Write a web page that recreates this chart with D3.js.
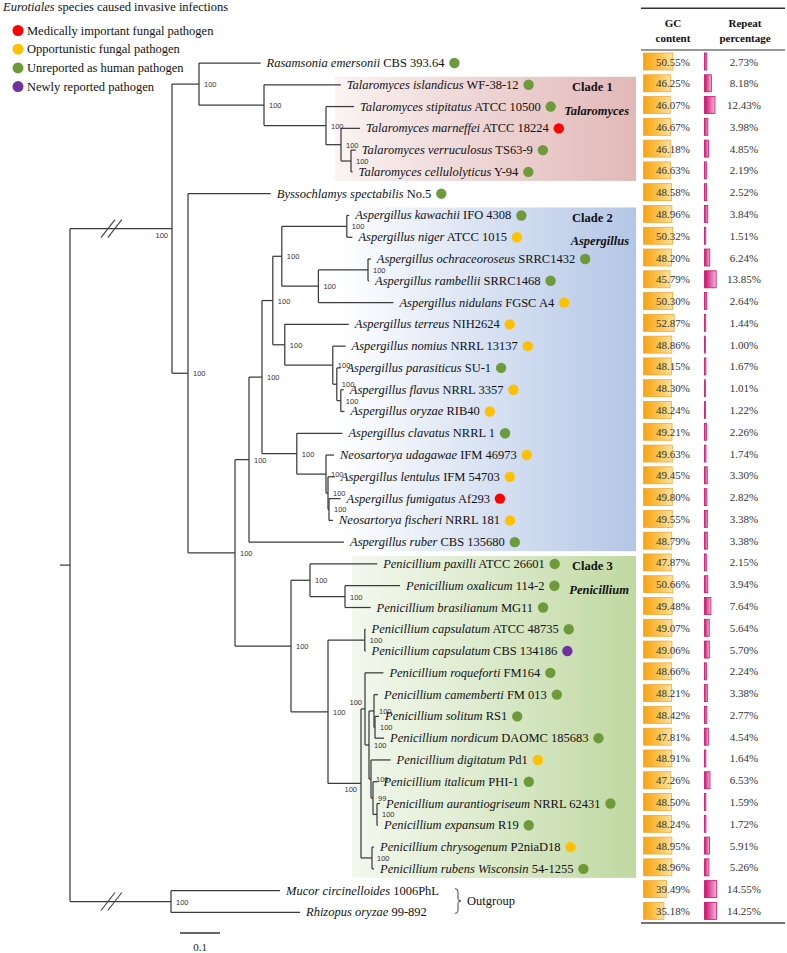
<!DOCTYPE html>
<html><head><meta charset="utf-8">
<script src="https://cdn.jsdelivr.net/npm/d3@7/dist/d3.min.js"></script>
<style>body{margin:0;background:#fff}svg{display:block}</style>
</head><body><svg id="chart" width="787" height="953"></svg>
<script>
// ---------------- DATA ----------------
const taxa = ["Rasamsonia emersonii","Talaromyces islandicus","Talaromyces stipitatus","Talaromyces marneffei","Talaromyces verruculosus","Talaromyces cellulolyticus","Byssochlamys spectabilis","Aspergillus kawachii","Aspergillus niger","Aspergillus ochraceoroseus","Aspergillus rambellii","Aspergillus nidulans","Aspergillus terreus","Aspergillus nomius","Aspergillus parasiticus","Aspergillus flavus","Aspergillus oryzae","Aspergillus clavatus","Neosartorya udagawae","Aspergillus lentulus","Aspergillus fumigatus","Neosartorya fischeri","Aspergillus ruber","Penicillium paxilli","Penicillium oxalicum","Penicillium brasilianum","Penicillium capsulatum","Penicillium capsulatum","Penicillium roqueforti","Penicillium camemberti","Penicillium solitum","Penicillium nordicum","Penicillium digitatum","Penicillium italicum","Penicillium aurantiogriseum","Penicillium expansum","Penicillium chrysogenum","Penicillium rubens Wisconsin","Mucor circinelloides","Rhizopus oryzae"];
const strains = ["CBS 393.64","WF-38-12","ATCC 10500","ATCC 18224","TS63-9","Y-94","No.5","IFO 4308","ATCC 1015","SRRC1432","SRRC1468","FGSC A4","NIH2624","NRRL 13137","SU-1","NRRL 3357","RIB40","NRRL 1","IFM 46973","IFM 54703","Af293","NRRL 181","CBS 135680","ATCC 26601","114-2","MG11","ATCC 48735","CBS 134186","FM164","FM 013","RS1","DAOMC 185683","Pd1","PHI-1","NRRL 62431","R19","P2niaD18","54-1255","1006PhL","99-892"];
// M = medically important, O = opportunistic, U = unreported, N = newly reported, "" = none
const pathogenType = ["U","U","U","M","U","U","U","U","O","U","U","O","O","O","U","O","O","U","O","O","M","O","U","U","U","U","U","N","U","U","U","U","O","U","U","U","O","U","",""];
const gcContent = [50.55,46.25,46.07,46.67,46.18,46.63,48.58,48.96,50.32,48.20,45.79,50.30,52.87,48.86,48.15,48.30,48.24,49.21,49.63,49.45,49.80,49.55,48.79,47.87,50.66,49.48,49.07,49.06,48.66,48.21,48.42,47.81,48.91,47.26,48.50,48.24,48.95,48.96,39.49,35.18];
const repeatPercentage = [2.73,8.18,12.43,3.98,4.85,2.19,2.52,3.84,1.51,6.24,13.85,2.64,1.44,1.00,1.67,1.01,1.22,2.26,1.74,3.30,2.82,3.38,3.38,2.15,3.94,7.64,5.64,5.70,2.24,3.38,2.77,4.54,1.64,6.53,1.59,1.72,5.91,5.26,14.55,14.25];

const legendTypes = ["M","O","U","N"];
const legendLabels = ["Medically  important fungal pathogen","Opportunistic fungal pathogen","Unreported as human pathogen","Newly reported pathogen"];
const cladeNames = ["Clade 1","Clade 2","Clade 3"];
const cladeGenera = ["Talaromyces","Aspergillus","Penicillium"];
const cladeFirstLeaf = [1,7,23];
const cladeLastLeaf = [5,22,37];
const scaleBarValue = 0.1;

// Tree (Newick; leaf names = row index, internal labels = bootstrap support)
const cladeTalaromycesNwk = "(0:0.154,(1:0.192,(2:0.07,(3:0.0475,(4:0.012,5:0.004)100:0.025)100:0.0375)100:0.155)100:0.1625)100:0.0675";
const cladeAspergillusNwk = "(((((7:0.006,8:0.014)100:0.1625,((9:0.007,10:0.0025)100:0.124,11:0.1875)100:0.0915)100:0.0225,(12:0.16,(13:0.032,(14:0.009,(15:0.0075,16:0.009)100:0.01)100:0.01)100:0.12)100:0.03)100:0.027,(17:0.114,(18:0.02,(19:0.017,(20:0.029,21:0.01)100:0.0025)100:0.005)100:0.073)100:0.087)100:0.0325,22:0.2375)100:0.035";
const cladePenicilliumNwk = "((23:0.168,(24:0.1375,25:0.064)100:0.0875)100:0.0475,((26:0.002,27:0.002)100:0.092,((28:0.046,((29:0.01,(30:0.01,31:0.0225)100:0.0025)100:0.0125,(32:0.049,(33:0.011,(34:0.0075,35:0.0025)100:0.01)99:0.005)100:0.005)100:0.01)100:0.01,(36:0.005,37:0.005)100:0.0275)100:0.0825)100:0.0925)100:0.14";
const outgroupNwk = "(38:0.2725,39:0.3225)100:0.2525";
const treeNewick = "((" + cladeTalaromycesNwk + ",(6:0.207,(" + cladeAspergillusNwk + "," + cladePenicilliumNwk + ")100:0.1175)100:0.04)100:0.255," + outgroupNwk + ");";

// ---------------- DRAWING ----------------
const svg = d3.select("#chart");
const SERIF = "'Liberation Serif','Times New Roman',Times,serif";
const SANS = "'Liberation Sans',Arial,sans-serif";
const FS = 12.5;
const typeColor = {M:"#ff0000", O:"#ffc000", U:"#6f9a3b", N:"#7030a0"};

function parseNewick(s){
  let i = 0;
  function node(){
    const n = {};
    if (s[i] === "("){
      n.children = [];
      i++;
      n.children.push(node());
      while (s[i] === ","){ i++; n.children.push(node()); }
      i++;
    }
    let label = "";
    while (i < s.length && !",:);".includes(s[i])) label += s[i++];
    let len = 0;
    if (s[i] === ":"){ i++; let num = ""; while (i < s.length && !",);".includes(s[i])) num += s[i++]; len = +num; }
    if (n.children) n.support = label; else n.leaf = +label;
    n.length = len;
    return n;
  }
  return node();
}

const root = d3.hierarchy(parseNewick(treeNewick));
root.eachBefore(d => { d.dist = d.parent ? d.parent.dist + d.data.length : 0; });

const x = d3.scaleLinear().domain([0, 1]).range([70, 470]);
const nRows = taxa.length;
const y = d3.scaleLinear().domain([0, nRows - 1]).range([63, 63 + 21.78 * (nRows - 1)]);
root.eachAfter(d => {
  d.px = x(d.dist);
  d.py = d.children ? (d.children[0].py + d.children[d.children.length - 1].py) / 2 : y(d.data.leaf);
  const lv = d.leaves().map(l => l.data.leaf);
  d.span = d3.min(lv) + "-" + d3.max(lv);
});

// defs: gradients
const defs = svg.append("defs");
function grad(id, stops){
  const g = defs.append("linearGradient").attr("id", id).attr("x1","0%").attr("x2","100%").attr("y1","0%").attr("y2","0%");
  stops.forEach(([o,c]) => g.append("stop").attr("offset", o).attr("stop-color", c));
}
grad("clade0", [[0,"#fbf3f3"],[0.35,"#f1dcdc"],[1,"#e2b8b8"]]);
grad("clade1", [[0,"#ffffff"],[0.35,"#e3eaf6"],[1,"#b4c6e6"]]);
grad("clade2", [[0,"#f3f8ee"],[0.35,"#e2eed6"],[1,"#c0d8a1"]]);
grad("gcGrad", [[0,"#f6a313"],[0.55,"#fbc451"],[1,"#fde2a0"]]);
grad("repGrad", [[0,"#c90a6c"],[1,"#f4b6d6"]]);

// clade boxes
const cladeLeft = [335, 338, 352];
const boxRight = 636;
cladeNames.forEach((name, k) => {
  const top = y(cladeFirstLeaf[k]) - 8;
  const bot = y(cladeLastLeaf[k]) + 9;
  svg.append("rect").attr("x", cladeLeft[k]).attr("y", top).attr("width", boxRight - cladeLeft[k]).attr("height", bot - top)
    .attr("fill", `url(#clade${k})`);
  svg.append("text").attr("x", 572).attr("y", top + 14.5).attr("font-family", SERIF).attr("font-size", FS)
    .attr("font-weight", "bold").attr("fill", "#111").text(name);
  svg.append("text").attr("x", 629).attr("y", top + 38).attr("text-anchor", "end").attr("font-family", SERIF).attr("font-size", FS)
    .attr("font-weight", "bold").attr("font-style", "italic").attr("fill", "#111").text(cladeGenera[k]);
});

// tree branches
const tree = svg.append("g").attr("stroke", "#3c3c3c").attr("stroke-width", 1.25).attr("fill", "none");
root.each(d => {
  if (d.children){
    const c0 = d.children[0], c1 = d.children[d.children.length - 1];
    tree.append("line").attr("x1", d.px).attr("x2", d.px).attr("y1", c0.py).attr("y2", c1.py);
    d.children.forEach(c => tree.append("line").attr("x1", d.px).attr("x2", c.px).attr("y1", c.py).attr("y2", c.py));
  }
});
// root stub
tree.append("line").attr("x1", x(-0.025)).attr("x2", x(0)).attr("y1", root.py).attr("y2", root.py);
// break marks on the two long basal branches
root.children.forEach(c => {
  [0.095, 0.112].forEach(t => {
    const cx = x(t);
    tree.append("line").attr("x1", cx - 7).attr("y1", c.py + 9).attr("x2", cx + 7).attr("y2", c.py - 9).attr("stroke-width", 1.1);
  });
});

// bootstrap labels (a few crowded nodes carry their label left of the node)
const leftBelow = new Set(["0-37", "28-37"]);
const leftAbove = new Set(["28-35"]);
const boot = svg.append("g").attr("font-family", SANS).attr("font-size", 7.5).attr("fill", "#333");
root.each(d => {
  if (!d.children || !d.data.support || d === root) return;
  let tx = d.px + 5, ty = d.py + 3, anchor = "start";
  if (leftBelow.has(d.span)){ tx = d.px - 4; ty = d.py + 9; anchor = "end"; }
  else if (leftAbove.has(d.span)){ tx = d.px - 3; ty = d.py - 4; anchor = "end"; }
  boot.append("text").attr("x", tx).attr("y", ty).attr("text-anchor", anchor).text(d.data.support);
});

// leaf labels + dots
const leaves = root.leaves();
const lab = svg.append("g").attr("font-family", SERIF).attr("font-size", FS).attr("fill", "#111");
leaves.forEach(d => {
  const i = d.data.leaf;
  const t = lab.append("text").attr("x", d.px + 6).attr("y", d.py + 4);
  t.append("tspan").attr("font-style", "italic").text(taxa[i]);
  t.append("tspan").text(" " + strains[i]);
  const w = t.node().getComputedTextLength();
  if (pathogenType[i]){
    svg.append("circle").attr("cx", d.px + 6 + w + 10).attr("cy", d.py).attr("r", 5.2).attr("fill", typeColor[pathogenType[i]]);
  }
});

// outgroup bracket
const oy0 = y(38) - 2, oy1 = y(39) + 1, omid = (oy0 + oy1) / 2, bx = 455;
svg.append("path").attr("fill", "none").attr("stroke", "#444").attr("stroke-width", 1)
  .attr("d", `M${bx},${oy0} Q${bx+3},${oy0} ${bx+3},${oy0+3} L${bx+3},${omid-2} Q${bx+3},${omid} ${bx+6},${omid} Q${bx+3},${omid} ${bx+3},${omid+2} L${bx+3},${oy1-3} Q${bx+3},${oy1} ${bx},${oy1}`);
svg.append("text").attr("x", bx + 12).attr("y", omid + 4).attr("font-family", SERIF).attr("font-size", FS).attr("fill", "#111").text("Outgroup");

// scale bar
const sbx = 180, sby = 933;
svg.append("line").attr("x1", sbx).attr("x2", sbx + x(scaleBarValue) - x(0)).attr("y1", sby).attr("y2", sby).attr("stroke", "#333").attr("stroke-width", 1.3);
svg.append("text").attr("x", sbx + (x(scaleBarValue) - x(0)) / 2).attr("y", 951).attr("text-anchor", "middle")
  .attr("font-family", SERIF).attr("font-size", 11).attr("fill", "#222").text(scaleBarValue);

// legend
const lg = svg.append("g").attr("font-family", SERIF).attr("font-size", FS).attr("fill", "#111");
const title = lg.append("text").attr("x", 3).attr("y", 11);
title.append("tspan").attr("font-style", "italic").text("Eurotiales");
title.append("tspan").text(" species caused invasive  infections");
legendTypes.forEach((tp, k) => {
  const cy = 30.5 + 18.7 * k;
  lg.append("circle").attr("cx", 18).attr("cy", cy).attr("r", 5.5).attr("fill", typeColor[tp]);
  lg.append("text").attr("x", 27).attr("y", cy + 4).text(legendLabels[k]);
});

// table
const tbl = svg.append("g").attr("font-family", SERIF).attr("font-size", 11).attr("fill", "#333");
const tx0 = 641, tx1 = 785;
tbl.append("line").attr("x1", tx0).attr("x2", tx1).attr("y1", 8.3).attr("y2", 8.3).attr("stroke", "#333").attr("stroke-width", 1.5);
tbl.append("line").attr("x1", tx0).attr("x2", tx1).attr("y1", 50).attr("y2", 50).attr("stroke", "#333").attr("stroke-width", 1);
tbl.append("line").attr("x1", tx0).attr("x2", tx1).attr("y1", 923).attr("y2", 923).attr("stroke", "#444").attr("stroke-width", 1.3);
[["GC",673,27],["content",673,42],["Repeat",745,27],["percentage",745,42]].forEach(([s,hx,hy]) =>
  tbl.append("text").attr("x", hx).attr("y", hy).attr("text-anchor", "middle").attr("font-weight", "bold").attr("fill", "#111").text(s));

const gcW = d3.scaleLinear().domain([0, 100]).range([0, 58]);
const repW = d3.scaleLinear().domain([0, 100]).range([0, 84]);
gcContent.forEach((v, i) => {
  const cy = y(i) - 1.5;
  tbl.append("rect").attr("x", 643.5).attr("y", cy - 8.5).attr("width", gcW(v)).attr("height", 17)
    .attr("fill", "url(#gcGrad)").attr("stroke", "#efa22c").attr("stroke-width", 0.7);
  tbl.append("text").attr("x", 673).attr("y", y(i) + 2.5).attr("text-anchor", "middle").text(v.toFixed(2) + "%");
});
repeatPercentage.forEach((v, i) => {
  const cy = y(i) - 1.5;
  tbl.append("rect").attr("x", 704.5).attr("y", cy - 8.5).attr("width", Math.max(0.6, repW(v))).attr("height", 17)
    .attr("fill", "url(#repGrad)").attr("stroke", "#c8136f").attr("stroke-width", 0.8);
  tbl.append("text").attr("x", 744).attr("y", y(i) + 2.5).attr("text-anchor", "middle").text(v.toFixed(2) + "%");
});
</script></body></html>
